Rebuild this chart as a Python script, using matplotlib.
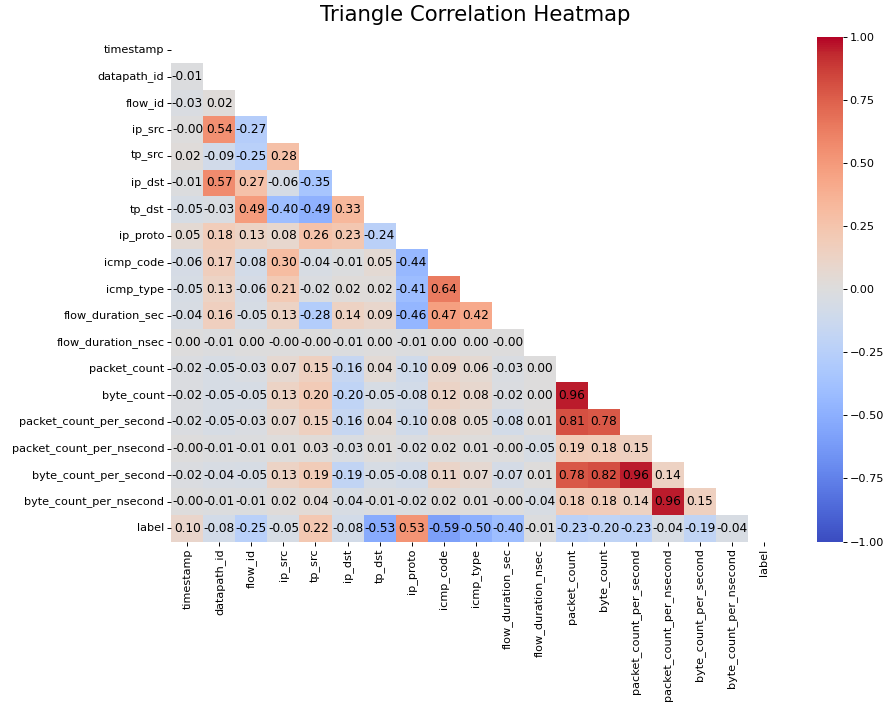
import numpy as np
import pandas as pd
import matplotlib
matplotlib.use("Agg")
import matplotlib.pyplot as plt
import seaborn as sns

columns = ["timestamp", "datapath_id", "flow_id", "ip_src", "tp_src", "ip_dst",
           "tp_dst", "ip_proto", "icmp_code", "icmp_type", "flow_duration_sec",
           "flow_duration_nsec", "packet_count", "byte_count",
           "packet_count_per_second", "packet_count_per_nsecond",
           "byte_count_per_second", "byte_count_per_nsecond", "label"]

# lower triangle rows (values left of the diagonal), -0.0 keeps the "-0.00" label
row_datapath_id = [-0.01]
row_flow_id = [-0.03, 0.02]
row_ip_src = [-0.0, 0.54, -0.27]
row_tp_src = [0.02, -0.09, -0.25, 0.28]
row_ip_dst = [-0.01, 0.57, 0.27, -0.06, -0.35]
row_tp_dst = [-0.05, -0.03, 0.49, -0.40, -0.49, 0.33]
row_ip_proto = [0.05, 0.18, 0.13, 0.08, 0.26, 0.23, -0.24]
row_icmp_code = [-0.06, 0.17, -0.08, 0.30, -0.04, -0.01, 0.05, -0.44]
row_icmp_type = [-0.05, 0.13, -0.06, 0.21, -0.02, 0.02, 0.02, -0.41, 0.64]
row_flow_duration_sec = [-0.04, 0.16, -0.05, 0.13, -0.28, 0.14, 0.09, -0.46, 0.47, 0.42]
row_flow_duration_nsec = [0.00, -0.01, 0.00, -0.0, -0.0, -0.01, 0.00, -0.01, 0.00, 0.00, -0.0]
row_packet_count = [-0.02, -0.05, -0.03, 0.07, 0.15, -0.16, 0.04, -0.10, 0.09, 0.06, -0.03, 0.00]
row_byte_count = [-0.02, -0.05, -0.05, 0.13, 0.20, -0.20, -0.05, -0.08, 0.12, 0.08, -0.02, 0.00, 0.96]
row_packet_count_per_second = [-0.02, -0.05, -0.03, 0.07, 0.15, -0.16, 0.04, -0.10, 0.08, 0.05,
                               -0.08, 0.01, 0.81, 0.78]
row_packet_count_per_nsecond = [-0.0, -0.01, -0.01, 0.01, 0.03, -0.03, 0.01, -0.02, 0.02, 0.01,
                                -0.0, -0.05, 0.19, 0.18, 0.15]
row_byte_count_per_second = [-0.02, -0.04, -0.05, 0.13, 0.19, -0.19, -0.05, -0.08, 0.11, 0.07,
                             -0.07, 0.01, 0.78, 0.82, 0.96, 0.14]
row_byte_count_per_nsecond = [-0.0, -0.01, -0.01, 0.02, 0.04, -0.04, -0.01, -0.02, 0.02, 0.01,
                              -0.0, -0.04, 0.18, 0.18, 0.14, 0.96, 0.15]
row_label = [0.10, -0.08, -0.25, -0.05, 0.22, -0.08, -0.53, 0.53, -0.59, -0.50, -0.40, -0.01,
             -0.23, -0.20, -0.23, -0.04, -0.19, -0.04]

lower_rows = [[], row_datapath_id, row_flow_id, row_ip_src, row_tp_src, row_ip_dst, row_tp_dst,
              row_ip_proto, row_icmp_code, row_icmp_type, row_flow_duration_sec,
              row_flow_duration_nsec, row_packet_count, row_byte_count,
              row_packet_count_per_second, row_packet_count_per_nsecond,
              row_byte_count_per_second, row_byte_count_per_nsecond, row_label]

n = len(columns)
corr_mat = np.eye(n)
for i, row in enumerate(lower_rows):
    for j, v in enumerate(row):
        corr_mat[i, j] = v
        corr_mat[j, i] = v
corr = pd.DataFrame(corr_mat, index=columns, columns=columns)

mask = np.triu(np.ones_like(corr_mat, dtype=bool))

plt.rcParams['font.size'] = 8.1

fig = plt.figure(figsize=(8.86, 7.06), dpi=100)
ax = fig.add_axes([0.1935, 0.2330, 0.6865, 0.7150])
cax = fig.add_axes([0.9218, 0.2330, 0.0293, 0.7150])

sns.heatmap(corr, mask=mask, annot=True, fmt=".2f", cmap="coolwarm", vmin=-1, vmax=1,
            annot_kws={"size": 8.7, "color": "black"}, ax=ax, cbar_ax=cax)
ax.tick_params(labelsize=8.1, length=3, width=0.7, pad=2)
cax.tick_params(labelsize=8.1, length=3, width=0.7, pad=2)
ax.set_title("Triangle Correlation Heatmap", fontsize=15.3, pad=11)

fig.savefig("out.png", dpi=100)
